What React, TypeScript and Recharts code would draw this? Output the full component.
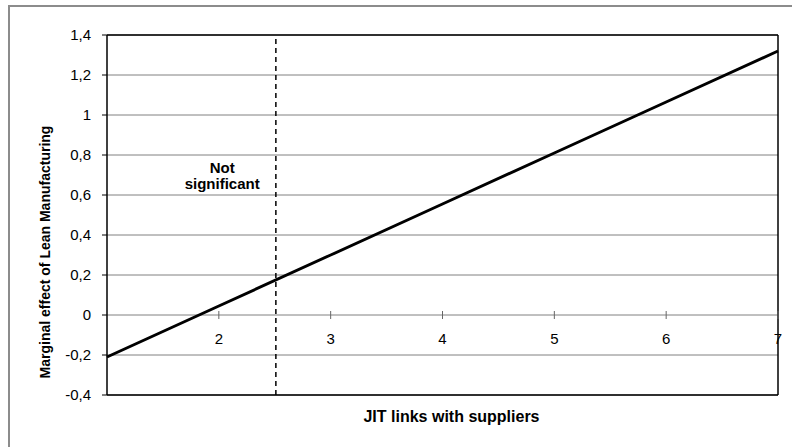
import React from 'react';
import {
  LineChart,
  Line,
  XAxis,
  YAxis,
  CartesianGrid,
  ReferenceLine,
  ReferenceDot,
} from 'recharts';

const jitLinks = [1, 2, 3, 4, 5, 6, 7];
const marginalEffect = [-0.21, 0.045, 0.3, 0.555, 0.81, 1.065, 1.32];
const yTicks = [-0.4, -0.2, 0, 0.2, 0.4, 0.6, 0.8, 1, 1.2, 1.4];
const xTickLabels = [2, 3, 4, 5, 6, 7];
const significanceCutoff = 2.51;
const noteLines = [
  { x: 2.03, y: 0.735, text: 'Not' },
  { x: 2.03, y: 0.655, text: 'significant' },
];

const data = jitLinks.map((x, i) => ({ x, effect: marginalEffect[i] }));

const FONT = '"Liberation Sans", Arial, sans-serif';

const fmtComma = (v: number) => String(Math.round(v * 10) / 10).replace('.', ',');

const YTitle = (props: any) => {
  const vb = props.viewBox || { x: 0, y: 35, width: 107, height: 360 };
  const cx = vb.x + 45;
  const cy = vb.y + vb.height / 2 + 37;
  return (
    <text
      x={cx}
      y={cy}
      transform={`rotate(-90 ${cx} ${cy})`}
      textAnchor="middle"
      dominantBaseline="central"
      fontWeight="bold"
      fontSize={14}
      fontFamily={FONT}
      fill="#000"
    >
      Marginal effect of Lean Manufacturing
    </text>
  );
};

const XTitle = (props: any) => {
  const vb = props.viewBox || { x: 107, y: 395, width: 671, height: 52 };
  const cx = vb.x + vb.width / 2 + 9;
  const cy = vb.y + 21;
  return (
    <text
      x={cx}
      y={cy}
      textAnchor="middle"
      dominantBaseline="central"
      fontWeight="bold"
      fontSize={16}
      fontFamily={FONT}
      fill="#000"
    >
      JIT links with suppliers
    </text>
  );
};

export default function App() {
  return (
    <div style={{ position: 'absolute', left: 0, top: 0, width: 792, height: 447, background: '#fff', overflow: 'hidden' }}>
      {/* outer chart frame, only left/top edges visible */}
      <div
        style={{
          position: 'absolute',
          left: 8,
          top: 5,
          width: 900,
          height: 600,
          borderLeft: '2px solid #8c8c8c',
          borderTop: '2px solid #8c8c8c',
        }}
      />
      <div style={{ position: 'absolute', left: 0, top: 0 }}>
        <LineChart
          width={792}
          height={447}
          data={data}
          margin={{ top: 35, right: 14, left: 0, bottom: 0 }}
          style={{ fontFamily: FONT }}
        >
          <CartesianGrid vertical={false} stroke="#808080" strokeWidth={1} />
          <XAxis
            dataKey="x"
            type="number"
            domain={[1, 7]}
            ticks={[]}
            tick={false}
            tickLine={false}
            axisLine={false}
            height={52}
            label={XTitle}
          />
          <YAxis
            type="number"
            domain={[-0.4, 1.4]}
            ticks={yTicks}
            width={107}
            tickFormatter={fmtComma}
            tick={{ fill: '#000', fontSize: 15, fontFamily: FONT }}
            tickLine={{ stroke: '#000' }}
            tickSize={5}
            tickMargin={11}
            axisLine={{ stroke: '#000', strokeWidth: 1.5 }}
            label={YTitle}
          />
          {/* plot frame */}
          <ReferenceLine y={1.4} stroke="#000" strokeWidth={1.5} />
          <ReferenceLine y={-0.4} stroke="#000" strokeWidth={1.5} />
          <ReferenceLine x={7} stroke="#000" strokeWidth={1.5} />
          <ReferenceLine
            x={significanceCutoff}
            stroke="#000"
            strokeWidth={1.5}
            strokeDasharray="5 4"
          />
          {xTickLabels.map((v) => (
            <ReferenceLine
              key={`t${v}`}
              segment={[
                { x: v, y: -0.02 },
                { x: v, y: 0.02 },
              ]}
              stroke="#666"
              strokeWidth={1}
            />
          ))}
          {xTickLabels.map((v) => (
            <ReferenceDot
              key={`l${v}`}
              x={v}
              y={0}
              r={0}
              fill="none"
              stroke="none"
              label={{
                value: String(v),
                position: 'bottom',
                offset: 18,
                fontSize: 15,
                fill: '#000',
                fontFamily: FONT,
              }}
            />
          ))}
          {noteLines.map((n) => (
            <ReferenceDot
              key={n.text}
              x={n.x}
              y={n.y}
              r={0}
              fill="none"
              stroke="none"
              label={{
                value: n.text,
                position: 'center',
                fontSize: 15,
                fontWeight: 'bold',
                fill: '#000',
                fontFamily: FONT,
              }}
            />
          ))}
          <Line
            type="linear"
            dataKey="effect"
            stroke="#000"
            strokeWidth={3}
            dot={false}
            isAnimationActive={false}
          />
        </LineChart>
      </div>
    </div>
  );
}
